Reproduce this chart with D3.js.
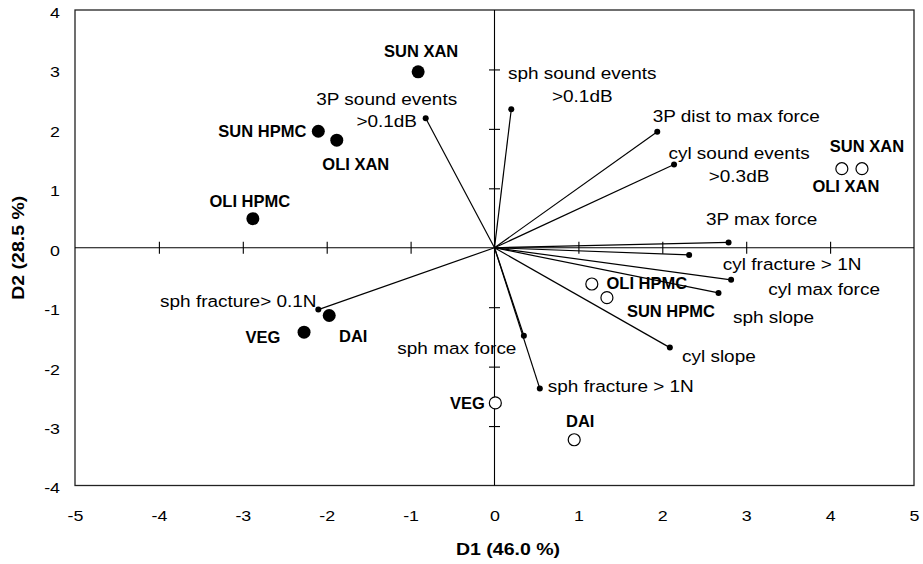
<!DOCTYPE html>
<html>
<head>
<meta charset="utf-8">
<script src="https://cdn.jsdelivr.net/npm/d3@7"></script>
<style>
  html, body { margin: 0; padding: 0; background: #fff; }
  svg { display: block; }
  text { font-family: "Liberation Sans", Arial, sans-serif; fill: #000; }
</style>
</head>
<body>
<svg id="chart" width="923" height="564"></svg>
<script>
// ---------- data ----------
const xTicks = [-5, -4, -3, -2, -1, 0, 1, 2, 3, 4, 5];
const yTicks = [-4, -3, -2, -1, 0, 1, 2, 3, 4];
const xTitle = "D1 (46.0 %)";
const yTitle = "D2 (28.5 %)";

// observations (filled = one condition, open = other)
const filledLabels = ["SUN XAN", "SUN HPMC", "OLI XAN", "OLI HPMC", "VEG", "DAI"];
const filledD1 = [-0.91, -2.10, -1.88, -2.88, -2.27, -1.97];
const filledD2 = [2.96, 1.96, 1.81, 0.49, -1.42, -1.14];

const openLabels = ["SUN XAN", "SUN HPMC", "OLI XAN", "OLI HPMC", "VEG", "DAI"];
const openD1 = [4.38, 1.34, 4.14, 1.16, 0.01, 0.95];
const openD2 = [1.33, -0.84, 1.33, -0.61, -2.61, -3.23];

// variables (loading vectors)
const varLabels = [
  ["3P sound events", ">0.1dB"],
  ["sph sound events", ">0.1dB"],
  ["3P dist to max force"],
  ["cyl sound events", ">0.3dB"],
  ["3P max force"],
  ["cyl fracture > 1N"],
  ["cyl max force"],
  ["sph slope"],
  ["cyl slope"],
  ["sph max force"],
  ["sph fracture > 1N"],
  ["sph fracture> 0.1N"]
];
const varD1 = [-0.82, 0.20, 1.94, 2.14, 2.79, 2.32, 2.82, 2.67, 2.09, 0.35, 0.54, -2.10];
const varD2 = [2.18, 2.33, 1.95, 1.40, 0.09, -0.12, -0.54, -0.76, -1.68, -1.48, -2.37, -1.04];

// ---------- layout (label offsets in px, from mark to text centre) ----------
const filledLabelOffset = [[3, -21], [-56, 0], [19, 24], [-3, -17], [-41, 5], [24, 21]];
const openLabelOffset = [[5, -22], [64, 14], [4, 18], [55, -1], [-28, 0], [6, -19]];
const varLabelOffset = [[-39, -19], [71, -36], [79, -16], [65, -11], [33, -23], [103, 9],
                        [93, 9], [55, 24], [49, 9], [-67, 12], [81, -2], [-80, -8]];
const lineGap = 22.5;

// ---------- drawing ----------
const plot = { left: 75, right: 914, top: 10, bottom: 485.5 };
const svg = d3.select("#chart");

const x = d3.scaleLinear().domain([-5, 5]).range([plot.left, plot.right]);
const y = d3.scaleLinear().domain([-4, 4]).range([plot.bottom, plot.top]);

const SX = 1.15; // horizontal stretch of text, as in the reference

function stretchedText(g, str, px, py, size, weight, anchor, extra) {
  return g.append("text")
    .attr("transform", `translate(${px},${py})` + (extra || "") + ` scale(${SX},1)`)
    .attr("text-anchor", anchor || "middle")
    .attr("dy", "0.35em")
    .style("font-size", size + "px")
    .style("font-weight", weight || "normal")
    .text(str);
}

// frame
svg.append("rect")
  .attr("x", plot.left).attr("y", plot.top)
  .attr("width", plot.right - plot.left).attr("height", plot.bottom - plot.top)
  .attr("fill", "none").attr("stroke", "#222").attr("stroke-width", 1.3);

// zero lines
svg.append("line")
  .attr("x1", x(-5)).attr("x2", x(5)).attr("y1", y(0)).attr("y2", y(0))
  .attr("stroke", "#000").attr("stroke-width", 1.1);
svg.append("line")
  .attr("x1", x(0)).attr("x2", x(0)).attr("y1", y(-4)).attr("y2", y(4))
  .attr("stroke", "#000").attr("stroke-width", 1.1);

// crossing ticks on the zero lines
const hTick = d3.axisBottom(x).tickValues(xTicks.filter(v => v !== 0 && Math.abs(v) < 5))
  .tickSize(12).tickFormat("");
const hTickG = svg.append("g").attr("transform", `translate(0,${y(0) - 6})`).call(hTick);
hTickG.select(".domain").remove();
hTickG.selectAll("line").attr("stroke", "#000").attr("stroke-width", 1.1);

const vTick = d3.axisLeft(y).tickValues(yTicks.filter(v => v !== 0 && Math.abs(v) < 4))
  .tickSize(11).tickFormat("");
const vTickG = svg.append("g").attr("transform", `translate(${x(0) + 5.5},0)`).call(vTick);
vTickG.select(".domain").remove();
vTickG.selectAll("line").attr("stroke", "#000").attr("stroke-width", 1.1);

// tick labels via axes (plain hyphen-minus, as in the reference)
const fmt = d => String(d);
const xAxis = d3.axisBottom(x).tickValues(xTicks).tickSize(0).tickFormat(fmt);
const xAxisG = svg.append("g").attr("transform", `translate(0,${plot.bottom})`).call(xAxis);
xAxisG.select(".domain").remove();
xAxisG.selectAll("text")
  .attr("x", 0).attr("y", 0).attr("dy", "0.35em")
  .attr("transform", `translate(0,30) scale(${SX},1)`)
  .style("font-size", "15.5px").style("font-family", "Liberation Sans, Arial, sans-serif")
  .attr("fill", "#000");

const yAxis = d3.axisLeft(y).tickValues(yTicks).tickSize(0).tickFormat(fmt);
const yAxisG = svg.append("g").attr("transform", `translate(${plot.left},0)`).call(yAxis);
yAxisG.select(".domain").remove();
yAxisG.selectAll("text")
  .attr("x", 0).attr("y", 0).attr("dy", "0.35em")
  .attr("transform", `translate(-15,2) scale(${SX},1)`)
  .style("font-size", "15.5px").style("font-family", "Liberation Sans, Arial, sans-serif")
  .attr("fill", "#000");

// axis titles
stretchedText(svg, xTitle, 508, 549, 17, "bold", "middle");
stretchedText(svg, yTitle, 18, (plot.top + plot.bottom) / 2, 17, "bold", "middle", " rotate(-90)");

// vectors
const vars = varLabels.map((lab, i) => ({ lab, d1: varD1[i], d2: varD2[i], off: varLabelOffset[i] }));
const vg = svg.append("g");
vars.forEach(v => {
  const ex = x(v.d1), ey = y(v.d2);
  v.lab.forEach((line, k) => {
    stretchedText(vg, line, ex + v.off[0], ey + v.off[1] + k * lineGap, 16.5, "normal", "middle");
  });
});
vg.selectAll("line.vec").data(vars).join("line").attr("class", "vec")
  .attr("x1", x(0)).attr("y1", y(0))
  .attr("x2", d => x(d.d1)).attr("y2", d => y(d.d2))
  .attr("stroke", "#000").attr("stroke-width", 1.2);
vg.selectAll("circle.vecdot").data(vars).join("circle").attr("class", "vecdot")
  .attr("cx", d => x(d.d1)).attr("cy", d => y(d.d2)).attr("r", 3)
  .attr("fill", "#000");

// filled observations
const filled = filledLabels.map((lab, i) => ({ lab, d1: filledD1[i], d2: filledD2[i], off: filledLabelOffset[i] }));
const fg = svg.append("g");
fg.selectAll("circle").data(filled).join("circle")
  .attr("cx", d => x(d.d1)).attr("cy", d => y(d.d2)).attr("r", 6.5)
  .attr("fill", "#000");
filled.forEach(d => {
  fg.append("text")
    .attr("x", x(d.d1) + d.off[0]).attr("y", y(d.d2) + d.off[1])
    .attr("dy", "0.35em").attr("text-anchor", "middle")
    .style("font-size", "16.5px").style("font-weight", "bold")
    .text(d.lab);
});

// open observations
const open = openLabels.map((lab, i) => ({ lab, d1: openD1[i], d2: openD2[i], off: openLabelOffset[i] }));
const og = svg.append("g");
open.forEach(d => {
  og.append("text")
    .attr("x", x(d.d1) + d.off[0]).attr("y", y(d.d2) + d.off[1])
    .attr("dy", "0.35em").attr("text-anchor", "middle")
    .style("font-size", "16.5px").style("font-weight", "bold")
    .text(d.lab);
});
og.selectAll("circle").data(open).join("circle")
  .attr("cx", d => x(d.d1)).attr("cy", d => y(d.d2)).attr("r", 6)
  .attr("fill", "#fff").attr("stroke", "#000").attr("stroke-width", 1.2);
</script>
</body>
</html>
